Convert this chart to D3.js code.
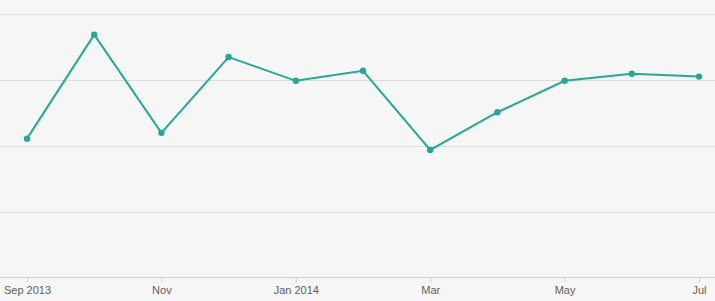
<!DOCTYPE html>
<meta charset="utf-8">
<title>Monthly line</title>
<style>
body { margin: 0; background: #f6f6f6; }
svg { display: block; }
.grid line { stroke: #dcdcdc; stroke-width: 1px; }
.x-axis text { font: 11px "Liberation Sans", Arial, sans-serif; fill: #606060; }
</style>
<body>
<script src="https://cdn.jsdelivr.net/npm/d3@7/dist/d3.min.js"></script>
<script>
var months = ["Sep 2013", "Oct", "Nov", "Dec", "Jan 2014", "Feb", "Mar", "Apr", "May", "Jun", "Jul"];
var values = [52.6, 92, 54.8, 83.5, 74.5, 78.3, 48.3, 62.6, 74.5, 77.2, 76.1];
var tickLabels = ["Sep 2013", "Nov", "Jan 2014", "Mar", "May", "Jul"];
var gridValues = [25, 50, 75, 100];

var w = 715,
    h = 301;

var svg = d3.select("body").append("svg")
    .attr("width", w)
    .attr("height", h);

var x = d3.scalePoint()
    .domain(months)
    .range([27, 699]);

var y = d3.scaleLinear()
    .domain([0, 100])
    .range([277.5, 13.5]);

svg.append("g")
    .attr("class", "grid")
  .selectAll("line")
    .data(gridValues)
  .enter().append("line")
    .attr("x1", 0)
    .attr("x2", w)
    .attr("y1", function(d) { return Math.round(y(d)) + 0.5; })
    .attr("y2", function(d) { return Math.round(y(d)) + 0.5; });

var xAxis = d3.axisBottom(x)
    .tickValues(tickLabels)
    .tickSize(5)
    .tickPadding(4);

var gx = svg.append("g")
    .attr("class", "x-axis")
    .attr("transform", "translate(0," + 277.5 + ")")
    .call(xAxis);

gx.select(".domain").remove();
gx.insert("line", ":first-child")
    .attr("x1", 0)
    .attr("x2", w)
    .attr("stroke", "#c0d0e0");
gx.selectAll(".tick line").attr("stroke", "#c0d0e0");
gx.selectAll(".tick text").attr("fill", "#606060");

var line = d3.line()
    .x(function(d, i) { return x(months[i]); })
    .y(function(d) { return y(d); });

svg.append("path")
    .datum(values)
    .attr("d", line)
    .attr("fill", "none")
    .attr("stroke", "#25a996")
    .attr("stroke-width", 2);

svg.selectAll("circle")
    .data(values)
  .enter().append("circle")
    .attr("cx", function(d, i) { return x(months[i]); })
    .attr("cy", function(d) { return y(d); })
    .attr("r", 3.2)
    .attr("fill", "#25a996");
</script>
